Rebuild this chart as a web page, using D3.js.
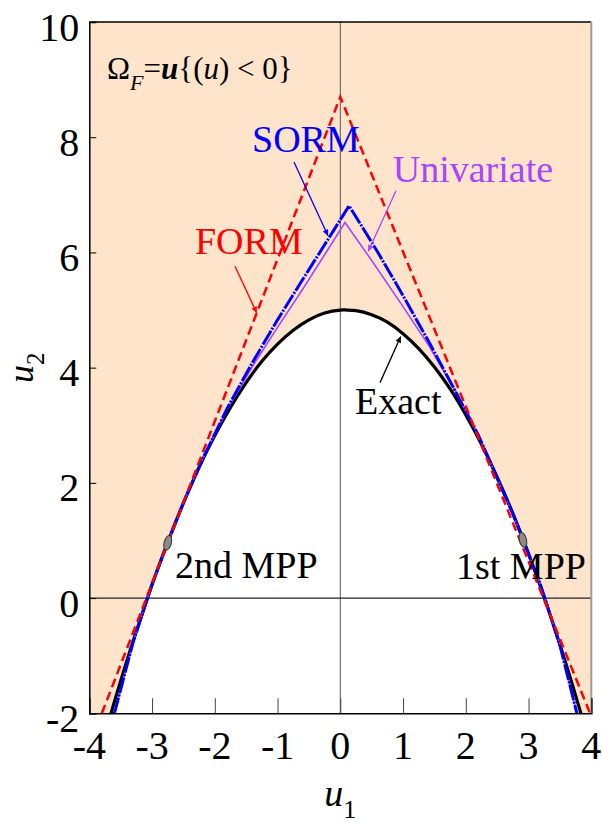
<!DOCTYPE html>
<html>
<head>
<meta charset="utf-8">
<script src="https://cdn.jsdelivr.net/npm/d3@7"></script>
<style>
  html, body { margin: 0; padding: 0; background: #fff; }
  svg { display: block; }
  svg text { font-family: "Liberation Serif", "Times New Roman", Times, "Nimbus Roman", "DejaVu Serif", serif; }
</style>
</head>
<body>
<svg id="chart" width="602" height="827"></svg>
<script>
// Axis ticks
const xTicks = [-4, -3, -2, -1, 0, 1, 2, 3, 4];
const yTicks = [-2, 0, 2, 4, 6, 8, 10];

// Exact limit-state curve g(u) = 0
const exactU1 = [-3.70, -3.60, -3.45, -3.30, -3.15, -3.00, -2.85, -2.70, -2.50, -2.25, -2.00, -1.75, -1.50, -1.25, -1.00, -0.75, -0.50, -0.25, 0.00, 0.10, 0.25, 0.50, 0.75, 1.00, 1.25, 1.50, 1.75, 2.00, 2.25, 2.50, 2.75, 3.00, 3.25, 3.50, 3.70, 3.85];
const exactU2 = [-2.18, -1.80, -1.26, -0.74, -0.25, 0.23, 0.68, 1.11, 1.65, 2.27, 2.82, 3.31, 3.74, 4.11, 4.41, 4.65, 4.83, 4.95, 5.00, 5.00, 4.99, 4.92, 4.79, 4.59, 4.33, 4.01, 3.63, 3.18, 2.67, 2.10, 1.47, 0.77, 0.01, -0.81, -1.51, -2.06];

// FORM approximation (tangent planes at the two MPPs)
const formU1 = [-3.80, 0.00, 3.98];
const formU2 = [-2.00, 8.70, -2.00];

// SORM approximation
const sormU1 = [-3.60, -3.30, -3.00, -2.75, -2.50, -2.20, -1.80, -1.40, -1.00, -0.60, -0.20, 0.14, 0.60, 1.00, 1.40, 1.80, 2.20, 2.50, 2.75, 2.91, 3.20, 3.50, 3.77];
const sormU2 = [-2.00, -0.76, 0.24, 0.96, 1.66, 2.40, 3.30, 4.09, 4.83, 5.53, 6.22, 6.81, 6.00, 5.25, 4.47, 3.66, 2.83, 2.08, 1.46, 1.02, 0.20, -0.82, -2.00];

// Univariate approximation
const uniU1 = [-3.60, -3.30, -3.00, -2.75, -2.50, -2.20, -1.80, -1.40, -1.00, -0.60, -0.25, 0.075, 0.50, 1.00, 1.40, 1.80, 2.20, 2.50, 2.75, 2.91, 3.20, 3.50, 3.77];
const uniU2 = [-2.00, -0.76, 0.24, 0.96, 1.66, 2.40, 3.28, 4.02, 4.70, 5.36, 5.96, 6.52, 5.86, 5.06, 4.40, 3.66, 2.83, 2.08, 1.46, 1.02, 0.20, -0.82, -2.00];

// Most probable points
const mppNames = ["1st MPP", "2nd MPP"];
const mppU1 = [2.91, -2.75];
const mppU2 = [1.01, 0.96];

const zip = (a, b) => a.map((v, i) => [v, b[i]]);

const SERIF = '"Liberation Serif", "Times New Roman", Times, "Nimbus Roman", "DejaVu Serif", serif';
const plot = { left: 89.3, right: 591.3, top: 22, bottom: 713.3 };

const x = d3.scaleLinear().domain([-4, 4]).range([plot.left, plot.right]);
const y = d3.scaleLinear().domain([-2, 10]).range([plot.bottom, plot.top]);

const svg = d3.select("#chart");

const defs = svg.append("defs");
defs.append("clipPath").attr("id", "plotClip")
  .append("rect")
  .attr("x", plot.left).attr("y", plot.top)
  .attr("width", plot.right - plot.left).attr("height", plot.bottom - plot.top);

function arrowMarker(id, color) {
  defs.append("marker")
    .attr("id", id)
    .attr("viewBox", "0 0 10 10")
    .attr("refX", 10).attr("refY", 5)
    .attr("markerWidth", 9).attr("markerHeight", 6)
    .attr("markerUnits", "userSpaceOnUse")
    .attr("orient", "auto")
    .append("path").attr("d", "M0,0 L10,5 L0,10 Z").attr("fill", color);
}
arrowMarker("arrBlue", "#0000ff");
arrowMarker("arrPurple", "#a845ff");
arrowMarker("arrRed", "#ff0000");
arrowMarker("arrBlack", "#000");

const path = (a, b, curve) => d3.line().x(d => x(d[0])).y(d => y(d[1])).curve(curve || d3.curveLinear)(zip(a, b));

const g = svg.append("g").attr("clip-path", "url(#plotClip)");

// Failure domain background
g.append("rect")
  .attr("x", plot.left).attr("y", plot.top)
  .attr("width", plot.right - plot.left).attr("height", plot.bottom - plot.top)
  .attr("fill", "#fde4ca");

// Safe domain (below the exact curve) in white
const area = d3.area().x(d => x(d[0])).y0(y(-2.5)).y1(d => y(d[1])).curve(d3.curveNatural);
g.append("path").datum(zip(exactU1, exactU2)).attr("d", area).attr("fill", "#fff");

// Coordinate axes through the origin
g.append("line").attr("x1", x(0)).attr("x2", x(0)).attr("y1", plot.top).attr("y2", plot.bottom)
  .attr("stroke", "#555").attr("stroke-width", 1);
g.append("line").attr("x1", plot.left).attr("x2", plot.right).attr("y1", y(0)).attr("y2", y(0))
  .attr("stroke", "#222").attr("stroke-width", 1.2);

// Exact curve
g.append("path").attr("d", path(exactU1, exactU2, d3.curveNatural))
  .attr("fill", "none").attr("stroke", "#000").attr("stroke-width", 3.2);

// Univariate
g.append("path").attr("d", path(uniU1, uniU2))
  .attr("fill", "none").attr("stroke", "#a845ff").attr("stroke-width", 1.6);

// SORM
g.append("path").attr("d", path(sormU1, sormU2))
  .attr("fill", "none").attr("stroke", "#0000ff").attr("stroke-width", 3)
  .attr("stroke-dasharray", "16,1.5,2,1.5");

// FORM
g.append("path").attr("d", path(formU1, formU2))
  .attr("fill", "none").attr("stroke", "#ff0000").attr("stroke-width", 2.5)
  .attr("stroke-dasharray", "9,5");

// MPP markers
g.selectAll("ellipse.mpp").data(zip(mppU1, mppU2)).join("ellipse")
  .attr("class", "mpp")
  .attr("cx", 0).attr("cy", 0).attr("rx", 3.6).attr("ry", 7.5)
  .attr("transform", (d, i) => `translate(${x(d[0])},${y(d[1])}) rotate(${i === 0 ? -14 : 14})`)
  .attr("fill", "#8a8a8a").attr("stroke", "#333").attr("stroke-width", 1);

// Frame
svg.append("line").attr("x1", plot.left).attr("x2", plot.right).attr("y1", plot.top).attr("y2", plot.top)
  .attr("stroke", "#000").attr("stroke-width", 1.5);
svg.append("line").attr("x1", plot.right).attr("x2", plot.right).attr("y1", plot.top).attr("y2", plot.bottom)
  .attr("stroke", "#a39a90").attr("stroke-width", 2);

// Bottom axis with inward ticks
const xAxis = svg.append("g").attr("transform", `translate(0,${plot.bottom})`)
  .call(d3.axisBottom(x).tickValues(xTicks).tickSize(-15).tickFormat(""));
xAxis.select(".domain").attr("stroke", "#000").attr("stroke-width", 1.5);
xAxis.selectAll(".tick line").attr("stroke", "#444").attr("stroke-width", 1);

svg.append("g").selectAll("text").data(xTicks).join("text")
  .attr("x", d => x(d)).attr("y", plot.bottom + 46)
  .attr("font-family", SERIF)
  .attr("text-anchor", "middle").attr("font-size", 40).attr("fill", "#000")
  .text(d => d < 0 ? "-" + Math.abs(d) : String(d));

// Left axis with inward ticks
const yAxis = svg.append("g").attr("transform", `translate(${plot.left},0)`)
  .call(d3.axisLeft(y).tickValues(yTicks).tickSize(-7).tickFormat(""));
yAxis.select(".domain").attr("stroke", "#000").attr("stroke-width", 1.5);
yAxis.selectAll(".tick line").attr("stroke", "#000").attr("stroke-width", 1);

svg.append("g").selectAll("text").data(yTicks).join("text")
  .attr("x", plot.left - 10).attr("y", d => y(d) + 18.5)
  .attr("font-family", SERIF)
  .attr("text-anchor", "end").attr("font-size", 40).attr("fill", "#000")
  .text(d => d < 0 ? "-" + Math.abs(d) : String(d));

// Axis titles
const xt = svg.append("text").attr("x", x(0)).attr("y", 806)
  .attr("font-family", SERIF)
  .attr("text-anchor", "middle").attr("font-size", 38).attr("fill", "#000");
xt.append("tspan").attr("font-style", "italic").text("u");
xt.append("tspan").attr("font-size", 26).attr("dy", 12).text("1");

const yt = svg.append("text").attr("transform", `translate(33,${(plot.top + plot.bottom) / 2}) rotate(-90)`)
  .attr("font-family", SERIF)
  .attr("text-anchor", "middle").attr("font-size", 36).attr("fill", "#000");
yt.append("tspan").attr("font-style", "italic").text("u");
yt.append("tspan").attr("font-size", 25).attr("dy", 11).text("2");

// Curve labels and leader arrows (positions in data units)
const labels = [
  { text: "SORM", u1: -1.407, u2: 7.75, color: "#0000ff" },
  { text: "Univariate", u1: 0.835, u2: 7.23, color: "#a845ff" },
  { text: "FORM", u1: -2.316, u2: 5.97, color: "#ff0000" },
  { text: "Exact", u1: 0.234, u2: 3.20, color: "#000" },
  { text: "2nd MPP", u1: -2.634, u2: 0.346, color: "#000" },
  { text: "1st MPP", u1: 1.844, u2: 0.336, color: "#000" }
];
svg.append("g").selectAll("text").data(labels).join("text")
  .attr("x", d => x(d.u1)).attr("y", d => y(d.u2))
  .attr("font-family", SERIF)
  .attr("font-size", 38).attr("fill", d => d.color)
  .text(d => d.text);

const leaders = [
  { from: [-0.738, 7.57], to: [-0.196, 6.29], color: "#0000ff", marker: "arrBlue" },
  { from: [0.888, 7.07], to: [0.446, 6.02], color: "#a845ff", marker: "arrPurple" },
  { from: [-1.678, 5.76], to: [-1.332, 4.95], color: "#ff0000", marker: "arrRed" },
  { from: [0.633, 3.74], to: [0.963, 4.54], color: "#000", marker: "arrBlack" }
];
svg.append("g").selectAll("line").data(leaders).join("line")
  .attr("x1", d => x(d.from[0])).attr("y1", d => y(d.from[1]))
  .attr("x2", d => x(d.to[0])).attr("y2", d => y(d.to[1]))
  .attr("stroke", d => d.color).attr("stroke-width", 1.3)
  .attr("marker-end", d => `url(#${d.marker})`);

// Failure-domain definition
const ft = svg.append("text").attr("x", x(-3.717)).attr("y", y(9.01))
  .attr("font-family", SERIF)
  .attr("font-size", 31).attr("fill", "#000");
ft.append("tspan").text("Ω");
ft.append("tspan").attr("font-style", "italic").attr("font-size", 22).attr("dy", 11).text("F");
ft.append("tspan").attr("dy", -11).text("=");
ft.append("tspan").attr("font-style", "italic").attr("font-weight", "bold").text("u");
ft.append("tspan").text("{(");
ft.append("tspan").attr("font-style", "italic").text("u");
ft.append("tspan").text(") < 0}");
</script>
</body>
</html>
